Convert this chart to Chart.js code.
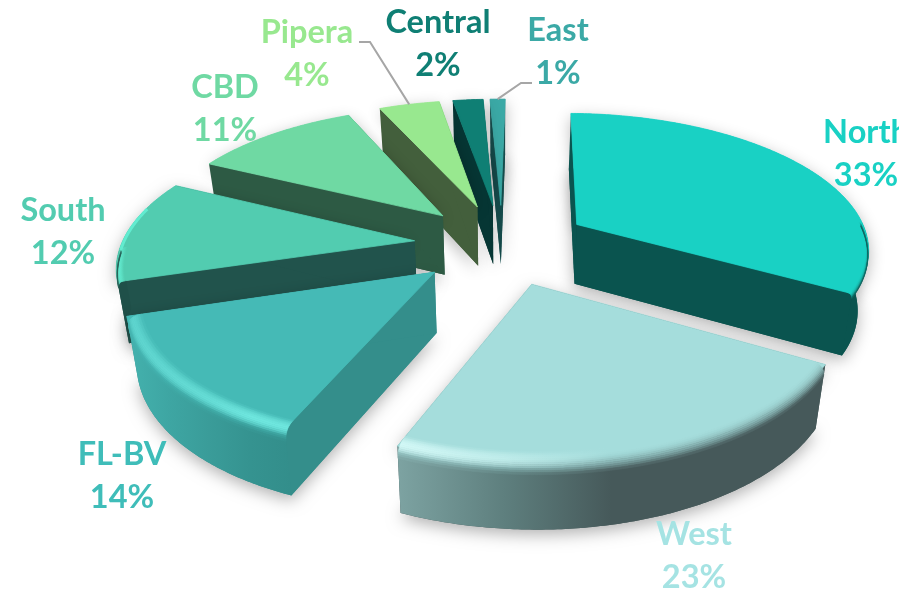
<!DOCTYPE html>
<html>
<head>
<meta charset="utf-8">
<style>
  html, body { margin: 0; background: #fff; }
  canvas { display: block; }
</style>
<script src="https://cdn.jsdelivr.net/npm/chart.js@4/dist/chart.umd.min.js"></script>
</head>
<body>
<canvas id="pie" width="899" height="593"></canvas>
<script>
const categories = ['North', 'West', 'FL-BV', 'South', 'CBD', 'Pipera', 'Central', 'East'];
const shares = [33, 23, 14, 12, 11, 4, 2, 1];

// face, side and label colours per slice
const topColors = ['#19d1c4', '#a5dddc', '#45bab6', '#52ccb0', '#6fd9a3', '#98e88f', '#0f7f74', '#3ba9a6'];
const sideColors = ['#0a544f', '#46595a', '#348e8b', '#21534c', '#2d5a44', '#435f3c', '#063634', '#164c4c'];
const labelColors = ['#19d1c4', '#a5e3e3', '#3fbdb9', '#52ccb0', '#6fd9a3', '#98e88f', '#0f7f74', '#3ba9a6'];

// outer wall shading left to right, and the light caught by the rounded rim
const wallStops = [
  ['#0a544f', '#0a544f'],
  ['#7da3a2', '#5e7f7e', '#46595a', '#46595a', '#46595a'],
  ['#44b2ae', '#3ea6a3', '#3a9c99', '#359390', '#338e8b'],
  ['#1f5049', '#1f5049'],
  null, null, null, null
];
const rimGlow = [null, ['#d2f8f6', 1, 0.6, 0, 0, 0], ['#6ee6de', 0.6, 0.7, 0.8, 1, 1], ['#62ecd0', 1, 0.5], null, null, null, null];
const rimBand = [5, 15, 14, 7, 0, 0, 0, 0];
const rimDrop = [5, 11, 11, 6, 0, 0, 0, 0];

// label line centres, first name then share
const labelSpots = [[866, 133], [694, 535], [122, 455], [63, 211], [225, 88], [307, 33], [438, 23], [558, 31]];
const LINE_GAP = 43;

const EXPLODE = 88;
const TILT = 0.46;
const PERSPECTIVE = 0.00055;
const DEPTH = 60;
const LEAN = 0.03;

function project(cx, cy, x, y, z) {
  const f = 1 / (1 - PERSPECTIVE * y);
  return [cx + x * f * (1 - LEAN * z / DEPTH), cy + TILT * y * f + z * Math.sqrt(f)];
}

function hexRgb(h) {
  return [1, 3, 5].map(i => parseInt(h.substr(i, 2), 16));
}
function mix(a, b, t) {
  const ca = hexRgb(a), cb = hexRgb(b);
  const m = ca.map((v, i) => Math.round(v + (cb[i] - v) * t));
  return '#' + m.map(v => v.toString(16).padStart(2, '0')).join('');
}
function sample(list, u) {
  const p = u * (list.length - 1), i = Math.min(Math.floor(p), list.length - 2);
  return { i, t: p - i };
}
function colorAt(list, u) {
  if (list.length === 1) return list[0];
  const s = sample(list, u);
  return mix(list[s.i], list[s.i + 1], s.t);
}
function weightAt(list, u) {
  if (list.length === 1) return list[0];
  const s = sample(list, u);
  return list[s.i] + (list[s.i + 1] - list[s.i]) * s.t;
}

function polygon(ctx, pts) {
  ctx.beginPath();
  pts.forEach((p, i) => i ? ctx.lineTo(p[0], p[1]) : ctx.moveTo(p[0], p[1]));
  ctx.closePath();
}

function sliceGeometry(el) {
  const p = el.getProps(['x', 'y', 'startAngle', 'endAngle', 'outerRadius'], true);
  const mid = (p.startAngle + p.endAngle) / 2;
  const off = el.options.offset || 0;
  const ax = Math.cos(mid) * off, ay = Math.sin(mid) * off;
  const at = (a, r, z) => project(p.x, p.y, ax + Math.cos(a) * r, ay + Math.sin(a) * r, z);
  const arc = (a0, a1, r, z) => {
    const n = Math.max(2, Math.ceil((a1 - a0) * 90)), out = [];
    for (let i = 0; i <= n; i++) out.push(at(a0 + (a1 - a0) * i / n, r, z));
    return out;
  };
  return { ...p, mid, ay, at, arc };
}

function horizontalFill(ctx, pts, colors) {
  const xs = pts.map(q => q[0]);
  const g = ctx.createLinearGradient(Math.min(...xs), 0, Math.max(...xs), 0);
  colors.forEach((c, i) => g.addColorStop(i / Math.max(1, colors.length - 1), c));
  return g;
}

function drawSlice(ctx, s, i) {
  const R = s.outerRadius, a0 = s.startAngle, a1 = s.endAngle;
  const top = [s.at(a0, 0, 0), ...s.arc(a0, a1, R, 0)];
  const bottom = [s.at(a0, 0, DEPTH), ...s.arc(a0, a1, R, DEPTH)];

  // soft drop shadow under the slice
  ctx.save();
  ctx.shadowColor = 'rgba(0,0,0,0.3)';
  ctx.shadowBlur = 16;
  ctx.shadowOffsetY = 5;
  ctx.fillStyle = sideColors[i];
  polygon(ctx, bottom);
  ctx.fill();
  ctx.fillStyle = topColors[i];
  polygon(ctx, top);
  ctx.fill();
  ctx.restore();

  // flat radial walls
  ctx.fillStyle = sideColors[i];
  [a0, a1].forEach(a => {
    polygon(ctx, [s.at(a, 0, 0), s.at(a, R, 0), s.at(a, R, DEPTH), s.at(a, 0, DEPTH)]);
    ctx.fill();
  });

  // curved outer wall, front facing part only
  const f0 = Math.max(a0, -0.02), f1 = Math.min(a1, Math.PI - 0.05);
  const stops = wallStops[i] || [sideColors[i]];
  if (f1 > f0) {
    const wall = [...s.arc(f0, f1, R, 0), ...s.arc(f0, f1, R, DEPTH).reverse()];
    ctx.fillStyle = horizontalFill(ctx, wall, stops);
    polygon(ctx, wall);
    ctx.fill();
  }

  ctx.fillStyle = topColors[i];
  ctx.strokeStyle = topColors[i];
  ctx.lineWidth = 0.8;
  polygon(ctx, top);
  ctx.fill();
  ctx.stroke();

  // rounded rim between the face and the wall
  if (f1 > f0 && rimBand[i]) drawRim(ctx, s, i, f0, f1, stops);

  // the lit edge carries on a little past the wall
  if (f1 > f0 && f1 < a1 && rimGlow[i]) {
    const edge = s.arc(f1 - 0.02, Math.min(a1, f1 + 0.3), R - 1.5, 0);
    ctx.strokeStyle = rimGlow[i][0];
    ctx.lineWidth = 3;
    ctx.beginPath();
    edge.forEach((p, k) => k ? ctx.lineTo(p[0], p[1]) : ctx.moveTo(p[0], p[1]));
    ctx.stroke();
  }
}

function drawRim(ctx, s, i, f0, f1, stops) {
  const R = s.outerRadius, STRIPS = 12;
  const glow = rimGlow[i];
  for (let k = 0; k < STRIPS; k++) {
    const t0 = k / STRIPS, t1 = (k + 1) / STRIPS, t = (t0 + t1) / 2;
    const inner = s.arc(f0, f1, R - rimBand[i] * (1 - t0) * (1 - t0), rimDrop[i] * t0 * t0);
    const outer = s.arc(f0, f1, R - rimBand[i] * (1 - t1) * (1 - t1), rimDrop[i] * t1 * t1);
    const strip = [...inner, ...outer.reverse()];
    const colors = [];
    for (let u = 0; u <= 1.001; u += 0.125) {
      const toWall = Math.min(1, Math.max(0, (t - 0.2) / 0.8));
      let c = mix(topColors[i], colorAt(stops, u), toWall * toWall);
      if (glow) {
        const w = weightAt(glow.slice(1), u) * Math.sin(Math.PI * Math.min(1, t * 1.25));
        c = mix(c, glow[0], Math.max(0, w));
      }
      colors.push(c);
    }
    const fill = horizontalFill(ctx, strip, colors);
    ctx.fillStyle = fill;
    ctx.strokeStyle = fill;
    ctx.lineWidth = 0.6;
    polygon(ctx, strip);
    ctx.fill();
    ctx.stroke();
  }
}

function drawLabels(ctx, geoms) {
  ctx.textAlign = 'center';
  ctx.textBaseline = 'middle';
  ctx.font = 'bold 32.5px Lato';
  categories.forEach((name, i) => {
    ctx.fillStyle = labelColors[i];
    ctx.fillText(name, labelSpots[i][0], labelSpots[i][1]);
    ctx.fillText(shares[i] + '%', labelSpots[i][0], labelSpots[i][1] + LINE_GAP);
  });

  // leader lines for the two narrow slices
  ctx.strokeStyle = '#a6a6a6';
  ctx.lineWidth = 2;
  const pipera = geoms[5].at(geoms[5].mid, geoms[5].outerRadius, 0);
  const east = geoms[7].at(geoms[7].mid, geoms[7].outerRadius, 0);
  ctx.beginPath();
  ctx.moveTo(359, 42);
  ctx.lineTo(370, 42);
  ctx.lineTo(pipera[0], pipera[1]);
  ctx.moveTo(532, 83);
  ctx.lineTo(521, 83);
  ctx.lineTo(east[0], east[1]);
  ctx.stroke();
}

// draws the arc elements as solid tilted wedges, back to front
const tiltedPie = {
  id: 'tiltedPie',
  beforeDatasetDraw(chart) {
    const ctx = chart.ctx;
    const geoms = chart.getDatasetMeta(0).data.map(sliceGeometry);
    const order = geoms.map((g, i) => i).sort((a, b) => geoms[a].ay - geoms[b].ay);
    order.forEach(i => drawSlice(ctx, geoms[i], i));
    drawLabels(ctx, geoms);
    return false;
  }
};

new Chart(document.getElementById('pie'), {
  type: 'pie',
  data: {
    labels: categories,
    datasets: [{ data: shares, backgroundColor: topColors, offset: EXPLODE, radius: 293, borderWidth: 0 }]
  },
  options: {
    responsive: false,
    animation: false,
    rotation: 1,
    layout: { padding: { left: 105, bottom: 105 } },
    plugins: { legend: { display: false }, tooltip: { enabled: false } }
  },
  plugins: [tiltedPie]
});
</script>
</body>
</html>
